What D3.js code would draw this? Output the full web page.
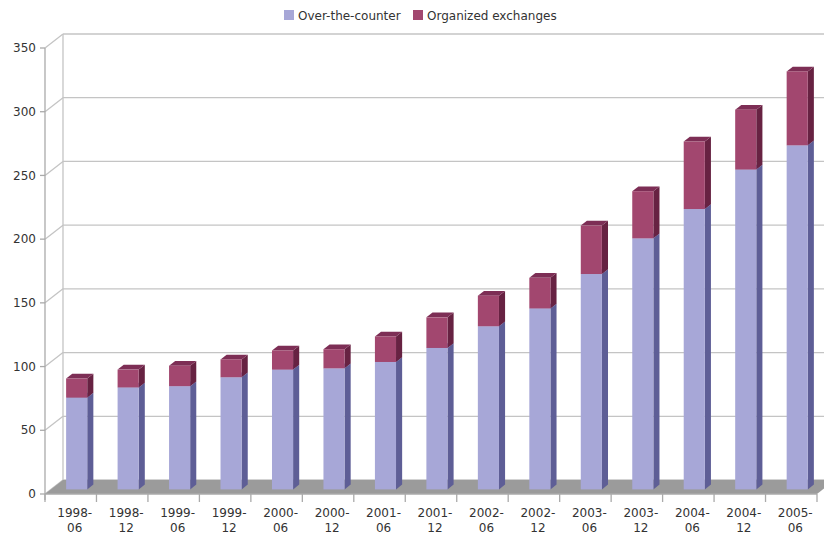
<!DOCTYPE html>
<html><head><meta charset="utf-8">
<script src="https://cdn.jsdelivr.net/npm/d3@7"></script>
<style>body{margin:0;background:#fff}svg{display:block}text{font-family:"DejaVu Sans",Verdana,sans-serif;fill:#333}</style>
</head><body><svg id="c" width="824" height="535"></svg>
<script>
const categories = ["1998-06","1998-12","1999-06","1999-12","2000-06","2000-12","2001-06","2001-12","2002-06","2002-12","2003-06","2003-12","2004-06","2004-12","2005-06"];
const otc = [72, 80, 81, 88, 94, 95, 100, 111, 128, 142, 169, 197, 220, 251, 270];
const exchanges = [15, 14, 16, 14, 15, 15, 20, 24, 24, 24, 38, 37, 53, 47, 58];
const seriesNames = ["Over-the-counter", "Organized exchanges"];
const yTicks = [0, 50, 100, 150, 200, 250, 300, 350];

const svg = d3.select("#c");
const DX = 18, DY = -14;
const x0 = 45, x1 = 817, yBase = 494, yTopPx = 48;
const x = d3.scaleBand().domain(categories).range([x0, x1]).padding(0);
const y = d3.scaleLinear().domain([0, 350]).range([yBase, yTopPx]);
const step = x.step(), bw = step * 0.41;
const d0 = 0.33, d1 = 0.67;

const gridC = "#c4c4c4", axisC = "#aaaaaa";
// back wall gridlines
const g = svg.append("g");
yTicks.forEach(t => {
  const yy = y(t);
  g.append("line").attr("x1", x0 + DX).attr("x2", x1 + DX + 20).attr("y1", yy + DY).attr("y2", yy + DY).attr("stroke", gridC).attr("stroke-width", 1.3);
  g.append("line").attr("x1", x0).attr("x2", x0 + DX).attr("y1", yy).attr("y2", yy + DY).attr("stroke", gridC).attr("stroke-width", 1.3);
  g.append("line").attr("x1", x0 - 5).attr("x2", x0).attr("y1", yy).attr("y2", yy).attr("stroke", axisC).attr("stroke-width", 1.3);
  g.append("text").attr("x", 36).attr("y", yy).attr("dy", "0.35em").attr("text-anchor", "end").attr("font-size", 12).text(t);
});
// wall verticals
g.append("line").attr("x1", x0 + DX).attr("x2", x0 + DX).attr("y1", y(350) + DY).attr("y2", yBase + DY).attr("stroke", gridC).attr("stroke-width", 1.3);
g.append("line").attr("x1", x0).attr("x2", x0).attr("y1", y(350)).attr("y2", yBase + 6).attr("stroke", axisC).attr("stroke-width", 1.3);

// floor
g.append("polygon").attr("points", [[x0, yBase], [x1, yBase], [x1 + DX, yBase + DY], [x0 + DX, yBase + DY]].map(p => p.join(",")).join(" ")).attr("fill", "#9b9b9b");
g.append("line").attr("x1", x0).attr("x2", x1).attr("y1", yBase).attr("y2", yBase).attr("stroke", axisC).attr("stroke-width", 1.3);
// x ticks
categories.concat([null]).forEach((c, i) => {
  const xx = x0 + i * step;
  g.append("line").attr("x1", xx).attr("x2", xx).attr("y1", yBase).attr("y2", yBase + 8).attr("stroke", axisC).attr("stroke-width", 1.3);
});
categories.forEach(c => {
  const parts = c.split("-");
  const t = g.append("text").attr("text-anchor", "middle").attr("font-size", 12).attr("x", x(c) + step / 2 + 4);
  t.append("tspan").attr("x", x(c) + step / 2 + 4).attr("y", 517).text(parts[0] + "-");
  t.append("tspan").attr("x", x(c) + step / 2 + 4).attr("y", 532).text(parts[1]);
});

// bars
const colors = [
  {front: "#a7a7d7", side: "#5e5e96", top: "#8484bc"},
  {front: "#a2476f", side: "#672242", top: "#7d2e55"}
];
const pts = a => a.map(p => p.join(",")).join(" ");
categories.forEach((c, i) => {
  const segs = [[0, otc[i]], [otc[i], otc[i] + exchanges[i]]];
  segs.forEach((s, k) => {
    const xl = x(c) + (step - bw) / 2 + DX * d0;
    const xr = xl + bw;
    const yb = y(s[0]) + DY * d0, yt = y(s[1]) + DY * d0;
    const ddx = DX * (d1 - d0), ddy = DY * (d1 - d0);
    const col = colors[k];
    g.append("polygon").attr("points", pts([[xr, yt], [xr, yb], [xr + ddx, yb + ddy], [xr + ddx, yt + ddy]])).attr("fill", col.side);
    g.append("polygon").attr("points", pts([[xl, yt], [xr, yt], [xr + ddx, yt + ddy], [xl + ddx, yt + ddy]])).attr("fill", col.top);
    g.append("rect").attr("x", xl).attr("y", yt).attr("width", bw).attr("height", yb - yt).attr("fill", col.front);
  });
});

// legend
const leg = svg.append("g");
const legItems = [{x: 284, tx: 298}, {x: 413, tx: 427}];
seriesNames.forEach((n, i) => {
  leg.append("rect").attr("x", legItems[i].x).attr("y", 10).attr("width", 10).attr("height", 10).attr("fill", colors[i].front);
  leg.append("text").attr("x", legItems[i].tx).attr("y", 19.5).attr("font-size", 12).text(n);
});
</script></body></html>
